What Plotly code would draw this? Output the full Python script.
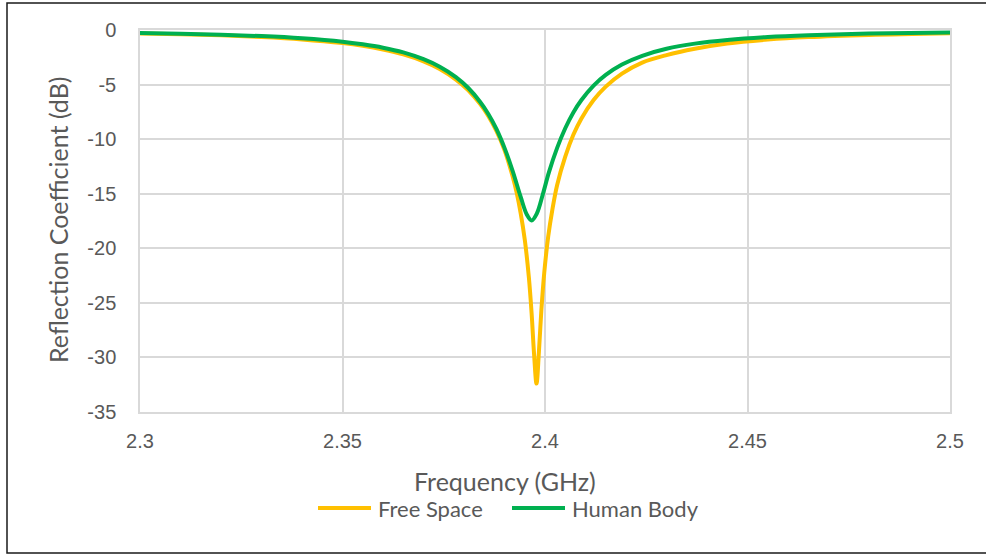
import plotly.graph_objects as go

# Frequency sweep (GHz) and reflection coefficient S11 (dB) for each case
free_space_freq = [2.300, 2.310, 2.320, 2.330, 2.340, 2.350, 2.355, 2.360, 2.365,
                   2.370, 2.374, 2.378, 2.381, 2.384, 2.386, 2.388, 2.390, 2.392,
                   2.393, 2.394, 2.395, 2.396, 2.3967, 2.3973, 2.3979, 2.3985,
                   2.3991, 2.3998, 2.4008, 2.4018, 2.403, 2.405, 2.407, 2.409,
                   2.412, 2.415, 2.419, 2.424, 2.430, 2.437, 2.445, 2.455,
                   2.465, 2.480, 2.500]
free_space_s11 = [-0.32, -0.39, -0.49, -0.64, -0.86, -1.20, -1.45, -1.79, -2.24,
                  -2.87, -3.57, -4.54, -5.50, -6.79, -7.88, -9.25, -11.0, -13.4,
                  -14.9, -16.8, -19.2, -22.6, -26.0, -29.7, -32.4, -29.5,
                  -25.7, -22.3, -18.9, -16.5, -14.2, -11.6, -9.6, -8.1,
                  -6.42, -5.19, -4.00, -2.99, -2.30, -1.72, -1.24, -0.88,
                  -0.65, -0.45, -0.29]

human_body_freq = [2.300, 2.310, 2.320, 2.330, 2.340, 2.350, 2.355, 2.360, 2.365,
                   2.370, 2.374, 2.378, 2.381, 2.384, 2.386, 2.388, 2.390, 2.392,
                   2.394, 2.3955, 2.3967, 2.398, 2.3995, 2.401, 2.403, 2.405,
                   2.407, 2.409, 2.412, 2.415, 2.419, 2.424, 2.430, 2.437,
                   2.445, 2.455, 2.465, 2.480, 2.500]
human_body_s11 = [-0.28, -0.34, -0.43, -0.56, -0.76, -1.07, -1.31, -1.62, -2.05,
                  -2.67, -3.36, -4.31, -5.29, -6.59, -7.69, -9.06, -10.8, -12.9,
                  -15.3, -16.9, -17.45, -16.8, -15.0, -13.0, -10.8, -9.0,
                  -7.55, -6.41, -5.09, -4.11, -3.16, -2.36, -1.72, -1.25,
                  -0.91, -0.64, -0.48, -0.33, -0.22]

x_ticks = [2.30, 2.35, 2.40, 2.45, 2.50]
x_tick_labels = ["2.3", "2.35", "2.4", "2.45", "2.5"]
y_ticks = [0, -5, -10, -15, -20, -25, -30, -35]
y_tick_labels = ["0", "-5", "-10", "-15", "-20", "-25", "-30", "-35"]

series_names = ["Free Space", "Human Body"]
series_colors = ["#FFC000", "#00B050"]

W, H = 986, 554
L, R, T, B = 140, 36, 30, 142
pw, ph = W - L - R, H - T - B

tick_font = dict(family="Liberation Sans, Arial, sans-serif", size=20, color="#595959")
title_font = dict(family="Lato, Open Sans, sans-serif", size=25, color="#595959")
legend_font = dict(family="Lato, Open Sans, sans-serif", size=22, color="#595959")
grid = "#d9d9d9"

fig = go.Figure()
for fx, fy, name, color in zip([free_space_freq, human_body_freq],
                               [free_space_s11, human_body_s11],
                               series_names, series_colors):
    fig.add_trace(go.Scatter(
        x=fx, y=fy, name=name, mode="lines", showlegend=False,
        line=dict(color=color, width=4, shape="spline", smoothing=1.0),
    ))

fig.update_xaxes(
    range=[2.3, 2.5], tickvals=x_ticks, ticktext=x_tick_labels,
    tickfont=tick_font, showgrid=True, gridcolor=grid, gridwidth=1.5,
    showline=True, linecolor=grid, linewidth=1.5, mirror=True,
    zeroline=False, ticks="", ticklabelstandoff=10,
)
fig.update_yaxes(
    range=[-35, 0], tickvals=y_ticks, ticktext=y_tick_labels,
    tickfont=tick_font, showgrid=True, gridcolor=grid, gridwidth=1.5,
    showline=True, linecolor=grid, linewidth=1.5, mirror=True,
    zeroline=False, ticks="", ticklabelstandoff=18,
)


def px(xp):
    return (xp - L) / pw


def py(yp):
    return 1 - (yp - T) / ph


# Legend drawn as line swatches with labels beside them, centred under the axis title
legend_items = [(318, 371, 376), (512, 565, 570)]
shapes = [
    dict(type="rect", xref="paper", yref="paper",
         x0=px(7), x1=px(992), y0=py(553), y1=py(3),
         line=dict(color="#1a1a1a", width=1.5), fillcolor="rgba(0,0,0,0)",
         layer="below"),
]
annotations = [
    dict(text="Frequency (GHz)", xref="paper", yref="paper",
         x=px(505), y=py(481), xanchor="center", yanchor="middle",
         showarrow=False, font=title_font),
    dict(text="Reflection Coefficient (dB)", xref="paper", yref="paper",
         x=px(58), y=py(220), xanchor="center", yanchor="middle",
         textangle=-90, showarrow=False, font=title_font),
]
for (l0, l1, tx), name, color in zip(legend_items, series_names, series_colors):
    shapes.append(dict(type="line", xref="paper", yref="paper",
                       x0=px(l0), x1=px(l1), y0=py(508), y1=py(508),
                       line=dict(color=color, width=4)))
    annotations.append(dict(text=name, xref="paper", yref="paper",
                            x=px(tx), y=py(508), xanchor="left", yanchor="middle",
                            showarrow=False, font=legend_font))

fig.update_layout(
    width=W, height=H,
    margin=dict(l=L, r=R, t=T, b=B, autoexpand=False),
    paper_bgcolor="white", plot_bgcolor="white",
    showlegend=False,
    annotations=annotations,
    shapes=shapes,
)

fig.write_html("out.html")
